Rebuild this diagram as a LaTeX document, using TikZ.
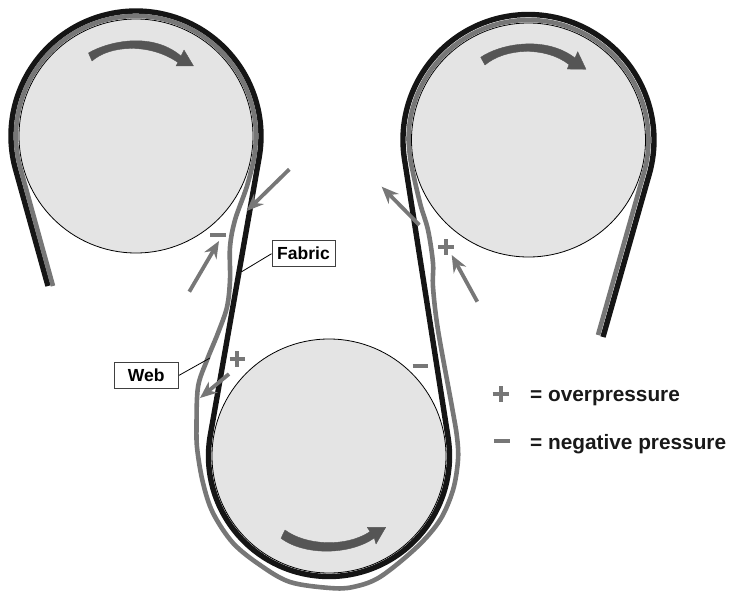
\documentclass[tikz,border=0pt]{standalone}
\usepackage{fontspec}
\setmainfont{Liberation Sans}
\usetikzlibrary{arrows.meta,calc}
\definecolor{rollfill}{HTML}{E4E4E4}
\definecolor{webgray}{HTML}{777777}
\definecolor{fabricblack}{HTML}{151515}
\definecolor{turn}{HTML}{555555}
\tikzset{
  roller/.style={circle,draw=black,line width=0.8pt,fill=rollfill,minimum size=234pt,inner sep=0pt,outer sep=0pt},
  fabricband/.style={draw=fabricblack,line width=5.4pt,line join=round},
  webband/.style={draw=webgray,line width=4.6pt,line join=round},
  turnarrow/.style={fill=turn,draw=turn,line width=0.4pt,line join=round},
  airarrow/.style={draw=webgray,line width=3.8pt,-{Stealth[length=17pt,width=14pt]}},
  signbar/.style={draw=webgray,line width=3.8pt},
  labelbox/.style={draw=black!75,line width=0.9pt,fill=white,font=\fontsize{17.5}{20}\selectfont\bfseries,inner sep=0pt,minimum height=26pt},
  leader/.style={draw=black,line width=0.8pt},
  legendtext/.style={font=\fontsize{20.8}{24}\selectfont\bfseries,anchor=base west,inner sep=0pt,text=black!90}
}
\begin{document}
\begin{tikzpicture}[x=1pt,y=1pt]
\useasboundingbox (0,0) rectangle (731,-591);
% rollers
\node[roller] (r1) at (136,-136) {};
\node[roller] (r2) at (528.5,-140) {};
\node[roller] (r3) at (329,-456) {};
% fabric
\coordinate (fa) at (48,-286);
\coordinate (fb) at (603,-337);
\coordinate (f1) at ($(r1.center)+(195:125)$);
\coordinate (f2) at ($(r3.center)+(170:120.5)$);
\coordinate (f3) at ($(r2.center)+(189:125.5)$);
\draw[fabricband] (fa) -- (f1) arc[start angle=195,end angle=-10,radius=125]
  -- (f2) arc[start angle=170,end angle=369,radius=120.5]
  -- (f3) arc[start angle=189,end angle=-16,radius=125.5] -- (fb);
% web
\coordinate (wa) at (53,-286);
\coordinate (wb) at (598,-335);
\coordinate (w1) at ($(r1.center)+(195:120)$);
\coordinate (w2) at ($(r2.center)+(180:120)$);
\draw[webband] (wa) -- (w1) arc[start angle=195,end angle=0,radius=120]
  -- plot[smooth,tension=0.55] coordinates {(256,-136) (254,-158) (246.7,-187) (235,-220) (230,-247) (230,-280) (227,-307) (218,-333) (207,-360) (198,-387) (196.5,-427) (197.3,-450) (203,-483) (213,-513) (233,-543) (260,-565) (290,-582) (330,-588) (353,-587) (380,-577) (417,-547) (440,-520) (453,-490) (458,-460) (457,-437) (452,-407) (438,-330) (433,-287) (433,-263) (428,-230) (420,-203) (411,-163) (408.5,-140)}
  arc[start angle=180,end angle=-16,radius=120] -- (wb);
% rotation arrows
\path[turnarrow] (88.5,-53) .. controls (105,-43) and (150,-30) .. (181,-56) -- (184,-50) -- (193.5,-66) -- (176,-66) -- (178,-62.5) .. controls (150,-43) and (110,-45) .. (92,-61) -- cycle;
\path[turnarrow] (480.7,-57.3) .. controls (500,-44) and (545,-35) .. (575,-58) -- (577.7,-51.7) -- (586,-69.3) -- (567.3,-69) -- (569,-64.5) .. controls (545,-46) and (505,-48) .. (485,-65) -- cycle;
\path[turnarrow] (285,-530) .. controls (305,-545) and (345,-548) .. (370,-531.7) -- (367.3,-527.3) -- (385.7,-527.3) -- (376,-544) -- (374.3,-538) .. controls (350,-555) and (305,-556) .. (281,-538.3) -- cycle;
% air arrows
\coordinate (a1s) at (289.3,-169.3); \coordinate (a1e) at (246.7,-211);
\coordinate (a2s) at (189.3,-291.7); \coordinate (a2e) at (219,-241);
\coordinate (a3s) at (229,-374);    \coordinate (a3e) at (200,-398);
\coordinate (a4s) at (419.3,-225);  \coordinate (a4e) at (381.7,-186.7);
\coordinate (a5s) at (477.3,-301.7);\coordinate (a5e) at (451.7,-255);
\draw[airarrow] (a1s) -- (a1e);
\draw[airarrow] (a2s) -- (a2e);
\draw[airarrow] (a3s) -- (a3e);
\draw[airarrow] (a4s) -- (a4e);
\draw[airarrow] (a5s) -- (a5e);
% signs
\draw[signbar] (210,-235) -- (226,-235);
\draw[signbar] (229.5,-359) -- (245,-359) (237.3,-351) -- (237.3,-367);
\draw[signbar] (438,-247.3) -- (454,-247.3) (446,-239.3) -- (446,-255.3);
\draw[signbar] (412.7,-365.7) -- (428,-365.7);
\draw[signbar] (492.7,-394) -- (508.7,-394) (500.7,-386) -- (500.7,-402);
\draw[signbar] (494,-441) -- (510,-441);
% labels
\node[labelbox,minimum width=63pt] (fabric) at (303.5,-253.7) {Fabric};
\node[labelbox,minimum width=64.7pt] (web) at (146.3,-375.3) {Web};
\coordinate (fabricpt) at (241.7,-271.7);
\coordinate (webpt) at (210,-358);
\draw[leader] (fabric.west) -- (fabricpt);
\draw[leader] (web.east) -- (webpt);
% legend
\node[legendtext] (over) at (530,-401.5) {= overpressure};
\node[legendtext] (neg) at (530,-449) {= negative pressure};
\end{tikzpicture}
\end{document}
